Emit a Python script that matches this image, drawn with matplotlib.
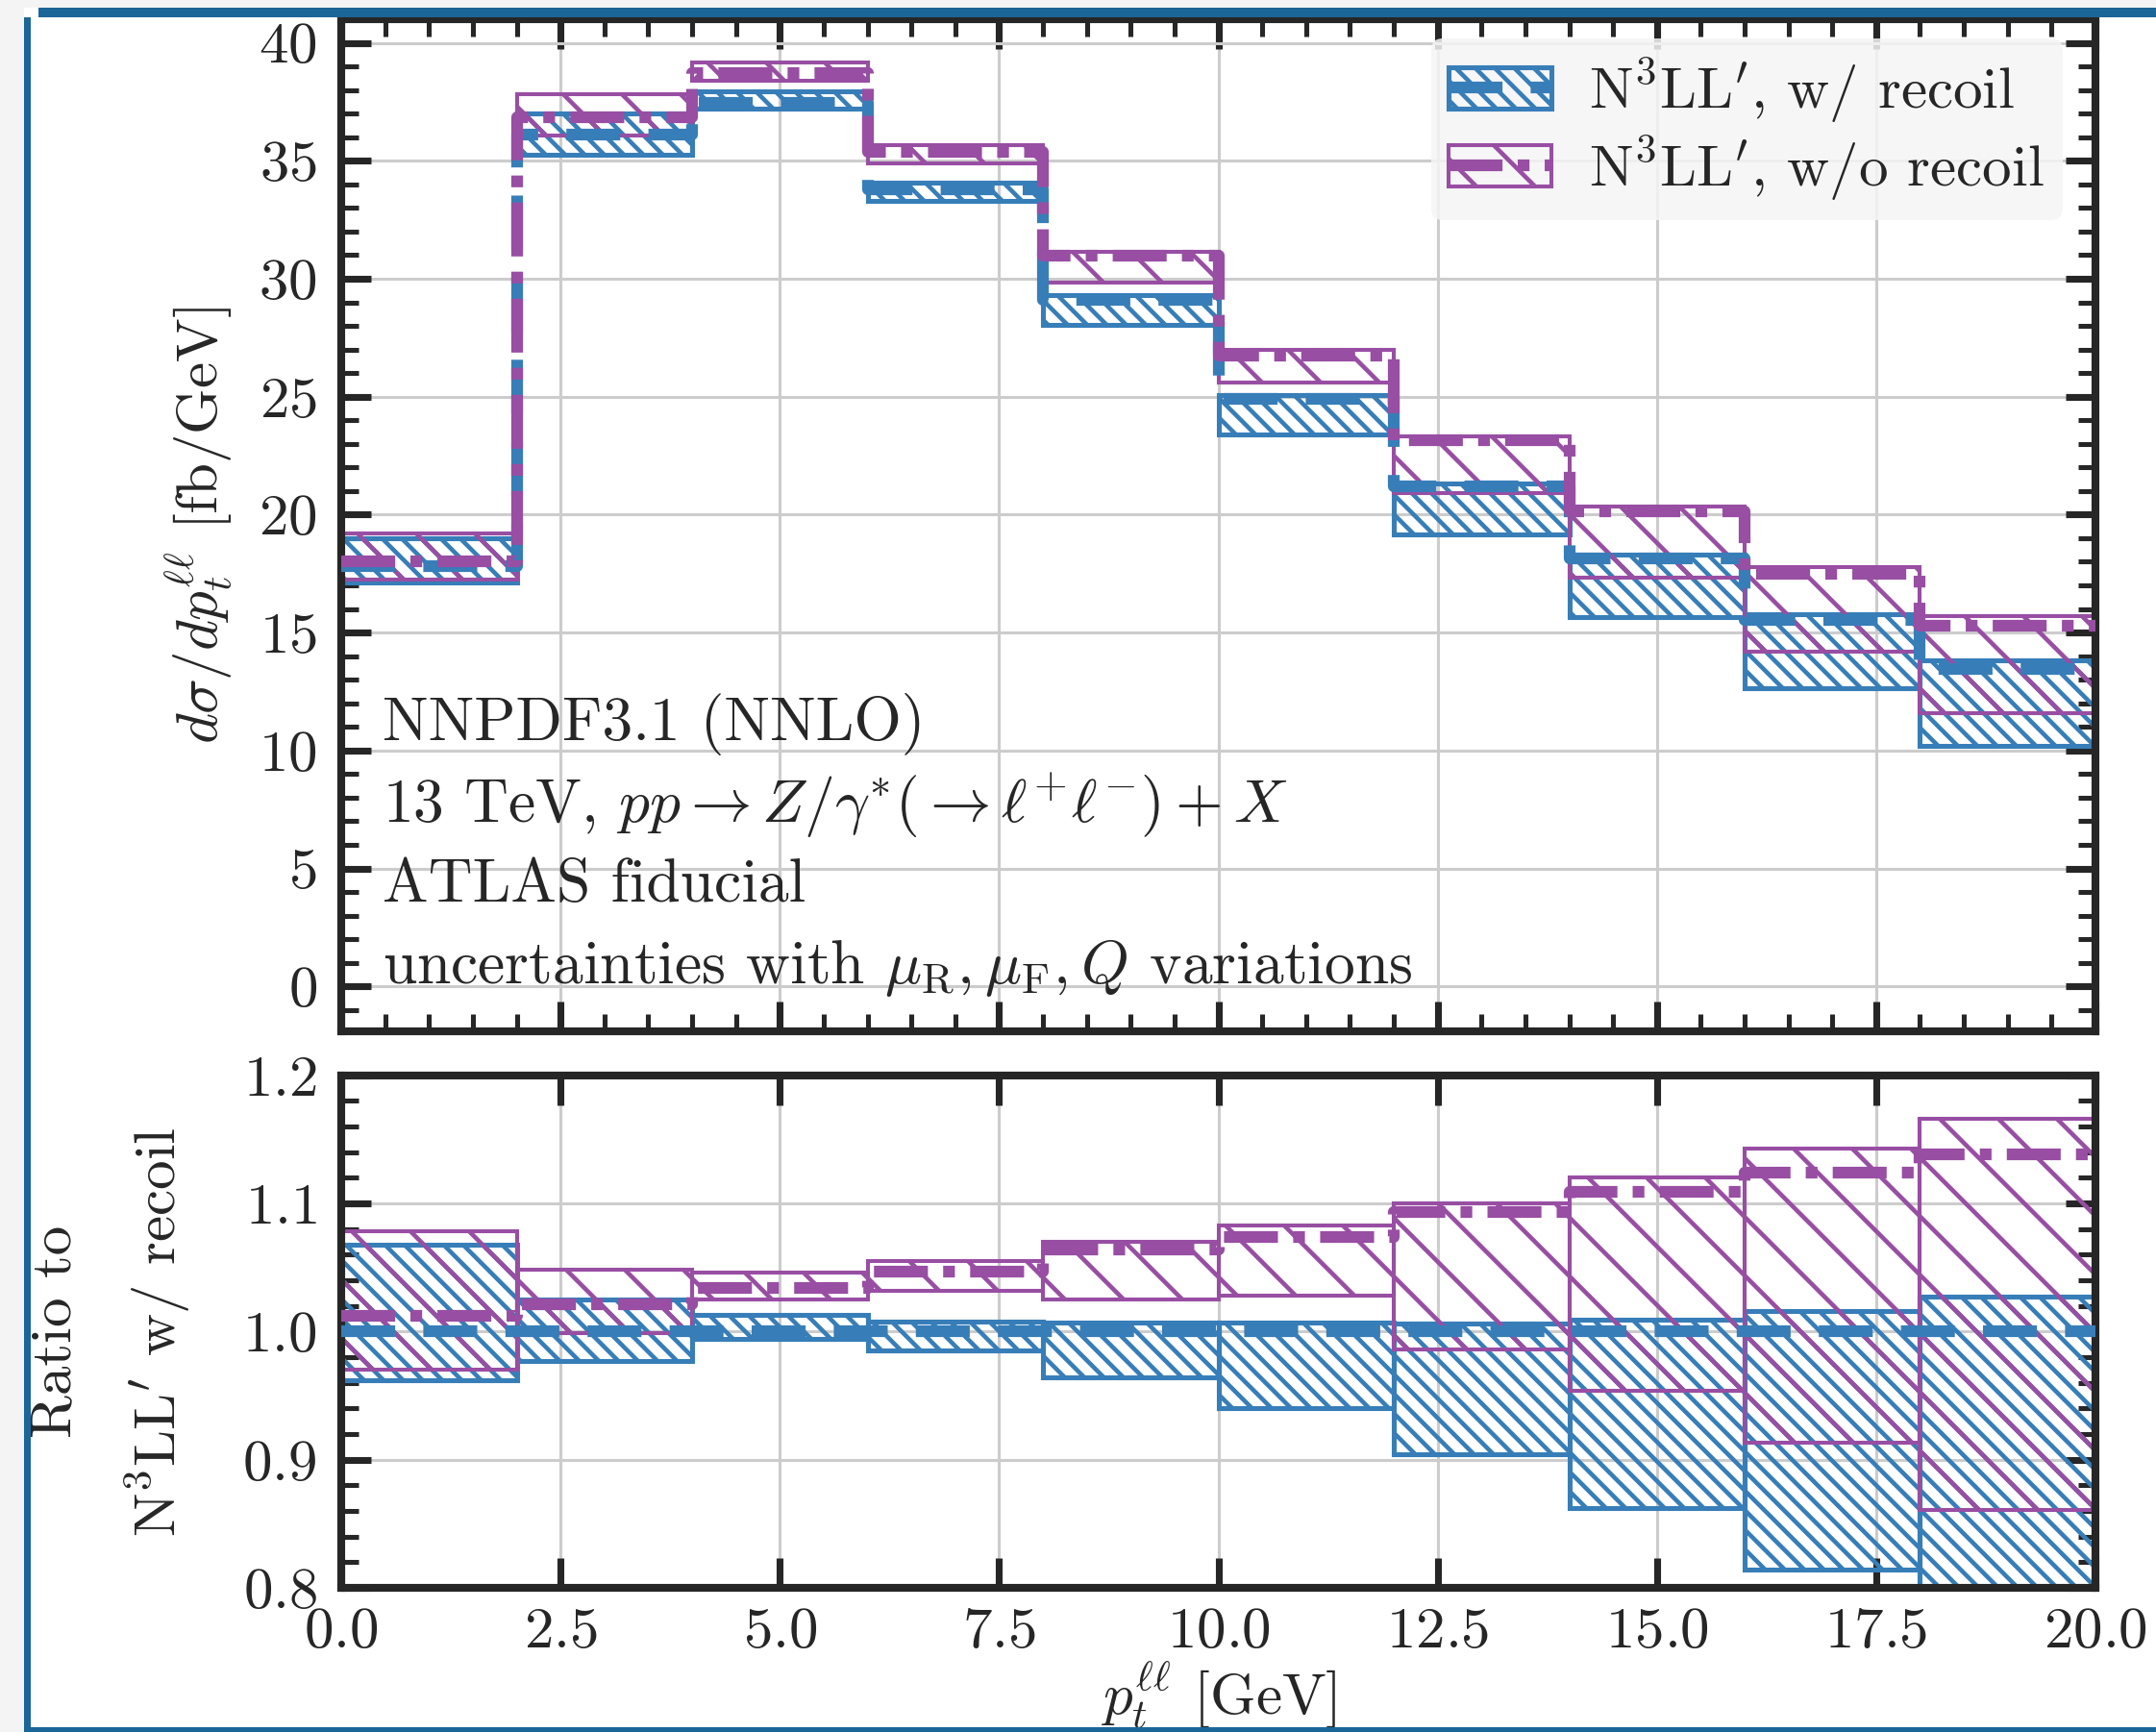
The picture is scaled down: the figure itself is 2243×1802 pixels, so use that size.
import numpy as np
import matplotlib
matplotlib.use("Agg")
import matplotlib.pyplot as plt
from matplotlib.patches import Patch, Rectangle
from matplotlib.lines import Line2D
from matplotlib.ticker import MultipleLocator

# ---------------------------------------------------------------- data
bin_edges = [0, 2, 4, 6, 8, 10, 12, 14, 16, 18, 20]

# N3LL' with recoil, central prediction [fb/GeV]
recoil_central = [17.8, 36.1, 37.45, 33.8, 29.1, 24.9, 21.2, 18.15, 15.55, 13.45]

# scale-variation envelopes, as ratio to the central with-recoil prediction
recoil_ratio_lo = [0.962, 0.977, 0.994, 0.985, 0.964, 0.940, 0.904, 0.862, 0.814, 0.758]
recoil_ratio_hi = [1.068, 1.025, 1.013, 1.008, 1.007, 1.007, 1.006, 1.009, 1.016, 1.027]

norecoil_ratio_c = [1.012, 1.021, 1.034, 1.047, 1.064, 1.074, 1.093, 1.109, 1.124, 1.138]
norecoil_ratio_lo = [0.970, 0.999, 1.025, 1.032, 1.025, 1.028, 0.986, 0.954, 0.913, 0.861]
norecoil_ratio_hi = [1.078, 1.048, 1.046, 1.055, 1.070, 1.083, 1.100, 1.120, 1.143, 1.166]

series_labels = [r"N$^3$LL$'$, w/ recoil", r"N$^3$LL$'$, w/o recoil"]
info_lines = [
    "NNPDF3.1 (NNLO)",
    r"13 TeV, $pp \to Z/\gamma^{*}(\to \ell^{+}\ell^{-}) + X$",
    "ATLAS fiducial",
    r"uncertainties with $\mu_{\mathrm{R}}, \mu_{\mathrm{F}}, Q$ variations",
]

# ---------------------------------------------------------------- style
BLUE = "#377eb8"
PURPLE = "#984ea3"
INK = "#262626"
FS = 12

plt.rcParams.update({
    "font.family": "cmr10",
    "mathtext.fontset": "cm",
    "axes.formatter.use_mathtext": True,
    "font.size": FS,
    "axes.edgecolor": INK,
    "axes.linewidth": 1.6,
    "xtick.color": INK,
    "ytick.color": INK,
    "text.color": INK,
    "axes.labelcolor": INK,
    "grid.color": "#cccccc",
    "grid.linewidth": 0.6,
    "hatch.linewidth": 0.9,
})

W, H, DPI = 2243, 1802, 366
fig = plt.figure(figsize=(W / DPI, H / DPI), dpi=DPI)
fig.patch.set_facecolor("white")

ax = fig.add_axes([0.1583, 0.4046, 0.9719 - 0.1583, 0.9889 - 0.4046])
rax = fig.add_axes([0.1583, 0.0832, 0.9719 - 0.1583, 0.3792 - 0.0832])

edges = np.asarray(bin_edges, float)
left = edges[:-1]
width = np.diff(edges)
c0 = np.asarray(recoil_central)

bands = [
    (np.asarray(recoil_ratio_lo), np.asarray(recoil_ratio_hi), np.ones_like(c0),
     BLUE, "\\" * 6, 1.0, (4.6, 2.4)),
    (np.asarray(norecoil_ratio_lo), np.asarray(norecoil_ratio_hi), np.asarray(norecoil_ratio_c),
     PURPLE, "\\" * 2, 0.8, (4.6, 1.3, 1.0, 1.3)),
]


def draw_bands(a, scale):
    for lo, hi, c, col, hatch, elw, dashes in bands:
        a.bar(left, (hi - lo) * scale, bottom=lo * scale, width=width, align="edge",
              fill=False, hatch=hatch, edgecolor=col, linewidth=elw, zorder=2)
    for lo, hi, c, col, hatch, elw, dashes in bands:
        y = c * scale
        a.step(edges, np.append(y, y[-1]), where="post", color=col, lw=2.4,
               dashes=dashes, dash_joinstyle="round", solid_joinstyle="round",
               zorder=3)


draw_bands(ax, c0)
draw_bands(rax, 1.0)

# ---------------------------------------------------------------- axes cosmetics
for a in (ax, rax):
    a.set_xlim(0, 20)
    a.grid(True, which="major", zorder=0)
    a.set_axisbelow(True)
    a.tick_params(which="both", direction="in", top=True, right=True)
    a.tick_params(which="major", length=6.1, width=1.4)
    a.tick_params(which="minor", length=3.5, width=1.0)
    a.tick_params(axis="both", which="major", labelsize=FS)
    a.xaxis.set_major_locator(MultipleLocator(2.5))

ax.set_ylim(-1.9, 41.0)
ax.yaxis.set_major_locator(MultipleLocator(5))
ax.yaxis.set_minor_locator(MultipleLocator(1))
ax.xaxis.set_minor_locator(MultipleLocator(0.5))
ax.tick_params(labelbottom=False)
ax.tick_params(axis="y", pad=5.0)

rax.set_ylim(0.8, 1.2)
rax.yaxis.set_major_locator(MultipleLocator(0.1))
rax.yaxis.set_minor_locator(MultipleLocator(0.02))
rax.tick_params(axis="x", pad=4.0)
rax.tick_params(axis="y", pad=5.0)

ax.set_ylabel(r"$d\sigma/dp_t^{\ell\ell}$ [fb/GeV]", va="center")
ax.yaxis.set_label_coords(-0.0807, 0.5)
rax.set_ylabel("Ratio to\n" + r"N$^3$LL$'$ w/ recoil", va="center", linespacing=1.8)
rax.yaxis.set_label_coords(-0.131, 0.5)
rax.set_xlabel(r"$p_t^{\ell\ell}$ [GeV]", va="center")
rax.xaxis.set_label_coords(0.5, -0.211)

for txt, yf in zip(info_lines, [0.303, 0.223, 0.143, 0.0625]):
    ax.text(0.0235, yf, txt, transform=ax.transAxes, ha="left", va="center",
            fontsize=12.5, zorder=5)

# ---------------------------------------------------------------- legend
handles = []
for lo, hi, c, col, hatch, elw, dashes in bands:
    p = Patch(facecolor="none", edgecolor=col, hatch=hatch, linewidth=elw)
    ln = Line2D([], [], color=col, lw=2.4, dashes=dashes)
    handles.append((p, ln))
leg = ax.legend(handles, series_labels, loc="upper right",
                bbox_to_anchor=(1 - 10 / 1276, 1.0), frameon=True, fancybox=True,
                facecolor="#f5f5f5", edgecolor="none", framealpha=0.85,
                handlelength=1.75, handleheight=0.7, borderaxespad=0.33,
                labelspacing=0.15, borderpad=0.3, handletextpad=0.65)
leg.set_zorder(6)

# ---------------------------------------------------------------- page frame
FRAME = "#1b6698"
fig.add_artist(Rectangle((0, 1 - 8 / H), 1, 8 / H, transform=fig.transFigure,
                         facecolor="#f4f4f4", edgecolor="none", zorder=-5))
fig.add_artist(Rectangle((0, 0), 25 / W, 1, transform=fig.transFigure,
                         facecolor="#f4f4f4", edgecolor="none", zorder=-5))
fig.add_artist(Rectangle((40 / W, 1 - 18 / H), 1, 10 / H, transform=fig.transFigure,
                         facecolor=FRAME, edgecolor="none", zorder=10))
fig.add_artist(Rectangle((25 / W, 0), 7 / W, 1 - 18 / H, transform=fig.transFigure,
                         facecolor=FRAME, edgecolor="none", zorder=10))
fig.add_artist(Rectangle((25 / W, 0), 1, 5 / H, transform=fig.transFigure,
                         facecolor=FRAME, edgecolor="none", zorder=10))

fig.savefig("out.png", dpi=DPI)
